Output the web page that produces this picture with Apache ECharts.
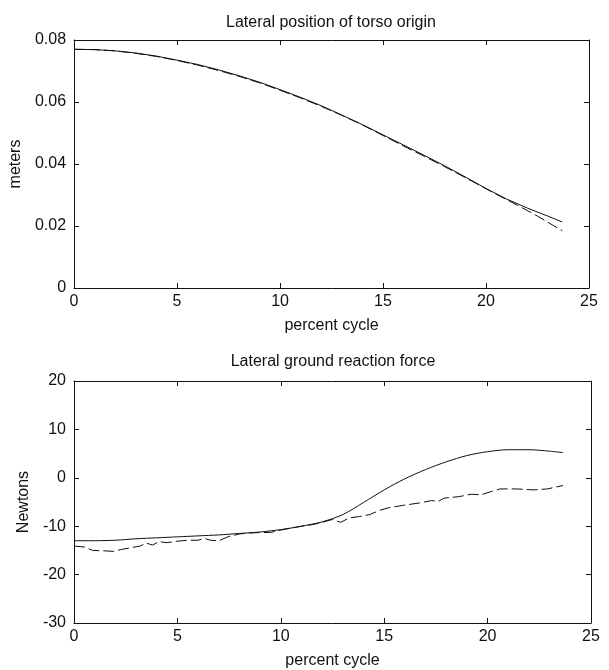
<!DOCTYPE html>
<html lang="en">

<head>
    <meta charset="UTF-8">
    <title>Lateral position and ground reaction force</title>
    <style>
        html, body { margin: 0; padding: 0; background: #fff; }
        #chart { width: 609px; height: 670px; }
    </style>
</head>

<body>
    <div id="chart"></div>
    <script src="https://cdn.jsdelivr.net/npm/echarts@6/dist/echarts.min.js"></script>
    <script>
        // top plot: lateral position of torso origin (meters)
        const posX = [0, 1, 2, 3, 4, 5, 6, 7, 8, 9, 10, 11, 12, 13, 14, 15, 16, 17, 18, 19, 20, 21, 22, 23, 23.7];
        const posSolid = [0.0770, 0.0769, 0.0765, 0.0758, 0.0748, 0.0735, 0.0721, 0.0704, 0.0685, 0.0664, 0.0640, 0.0615, 0.0588, 0.0558, 0.0527, 0.0494, 0.0461, 0.0428, 0.0394, 0.0358, 0.0321, 0.0287, 0.0258, 0.0232, 0.0213];
        const posDashedX = [0, 1, 2, 3, 4, 5, 6, 7, 8, 9, 10, 11, 12, 13, 14, 15, 16, 17, 18, 19, 20, 21, 21.5, 22, 22.5, 23, 23.7];
        const posDashed = [0.0770, 0.0769, 0.0765, 0.0757, 0.0747, 0.0734, 0.0719, 0.0702, 0.0683, 0.0662, 0.0638, 0.0613, 0.0586, 0.0557, 0.0526, 0.0492, 0.0458, 0.0425, 0.0391, 0.0356, 0.0320, 0.0285, 0.0268, 0.0250, 0.0232, 0.0212, 0.0185];

        // bottom plot: lateral ground reaction force (Newtons)
        const forceX = [0, 1, 2, 3, 4, 5, 6, 7, 8, 9, 10, 11, 12, 13, 14, 15, 16, 17, 18, 19, 20, 21, 22, 23, 23.65];
        const forceSolid = [-13.0, -13.0, -12.9, -12.6, -12.4, -12.2, -12.0, -11.8, -11.5, -11.2, -10.7, -10.0, -9.1, -7.6, -5.1, -2.5, -0.2, 1.7, 3.3, 4.6, 5.4, 5.8, 5.8, 5.5, 5.2];
        const forceDashedX = [0, 0.5, 0.9, 1.5, 1.9, 2.3, 2.8, 3.2, 3.5, 3.8, 4.1, 4.5, 5, 5.5, 6.0, 6.3, 6.6, 7.0, 7.5, 8, 8.5, 9, 9.5, 10, 10.5, 11, 11.5, 12, 12.5, 12.9, 13.3, 13.8, 14.3, 14.8, 15.2, 15.9, 16.7, 17.3, 17.6, 17.9, 18.6, 19.2, 19.7, 20.2, 20.6, 21.4, 22.2, 22.9, 23.2, 23.65];
        const forceDashed = [-14.1, -14.3, -15.0, -15.1, -15.2, -14.8, -14.4, -14.1, -13.5, -13.9, -13.2, -13.4, -13.1, -12.9, -12.9, -12.5, -12.9, -13.0, -12.1, -11.6, -11.4, -11.3, -11.3, -10.8, -10.4, -10.0, -9.7, -9.2, -8.6, -9.2, -8.3, -8.0, -7.6, -6.7, -6.2, -5.7, -5.2, -4.7, -4.9, -4.2, -3.9, -3.4, -3.5, -2.8, -2.3, -2.3, -2.5, -2.3, -2.0, -1.6];

        const xTicks = [0, 5, 10, 15, 20, 25];
        const posTicks = [0, 0.02, 0.04, 0.06, 0.08];
        const forceTicks = [-30, -20, -10, 0, 10, 20];

        const font = "'Liberation Sans', Arial, sans-serif";
        const ink = '#111';

        const pairs = (xs, ys) => xs.map((x, i) => [x, ys[i]]);

        // frame axis: the box of the matlab plot, ticks pointing inside
        function frameX(grid, pos, ticks, withLabels) {
            return {
                type: 'value', gridIndex: grid, position: pos,
                min: ticks[0], max: ticks[ticks.length - 1], interval: ticks[1] - ticks[0],
                axisLine: { show: true, onZero: false, lineStyle: { color: ink, width: 1 } },
                axisTick: { show: true, inside: true, length: 5, lineStyle: { color: ink } },
                axisLabel: { show: withLabels, color: ink, fontFamily: font, fontSize: 16, margin: 6 },
                splitLine: { show: false },
                name: withLabels ? 'percent cycle' : '',
                nameLocation: 'middle', nameGap: 30,
                nameTextStyle: { color: ink, fontFamily: font, fontSize: 16 }
            };
        }

        function frameY(grid, pos, ticks, withLabels, name, gap, fmt) {
            return {
                type: 'value', gridIndex: grid, position: pos,
                min: ticks[0], max: ticks[ticks.length - 1], interval: ticks[1] - ticks[0],
                axisLine: { show: true, onZero: false, lineStyle: { color: ink, width: 1 } },
                axisTick: { show: true, inside: true, length: 5, lineStyle: { color: ink } },
                axisLabel: { show: withLabels, color: ink, fontFamily: font, fontSize: 16, margin: 8, formatter: fmt },
                splitLine: { show: false },
                name: withLabels ? name : '',
                nameLocation: 'middle', nameGap: gap,
                nameTextStyle: { color: ink, fontFamily: font, fontSize: 16 }
            };
        }

        const solid = { color: ink, width: 1 };
        const dashed = { color: ink, width: 1, type: [11, 4] };

        const option = {
            backgroundColor: '#fff',
            animation: false,
            title: [
                {
                    text: 'Lateral position of torso origin', left: 331, top: 15, textAlign: 'center', padding: 0,
                    textStyle: { color: ink, fontFamily: font, fontSize: 16, fontWeight: 'normal' }
                },
                {
                    text: 'Lateral ground reaction force', left: 333, top: 354, textAlign: 'center', padding: 0,
                    textStyle: { color: ink, fontFamily: font, fontSize: 16, fontWeight: 'normal' }
                }
            ],
            grid: [
                { left: 73, right: 20, top: 40, height: 248, containLabel: false },
                { left: 74, right: 18, top: 381, height: 244, containLabel: false }
            ],
            xAxis: [
                frameX(0, 'bottom', xTicks, true),
                frameX(0, 'top', xTicks, false),
                frameX(1, 'bottom', xTicks, true),
                frameX(1, 'top', xTicks, false)
            ],
            yAxis: [
                frameY(0, 'left', posTicks, true, 'meters', 40, v => v === 0 ? '0' : v.toFixed(2)),
                frameY(0, 'right', posTicks, false, '', 0),
                frameY(1, 'left', forceTicks, true, 'Newtons', 29),
                frameY(1, 'right', forceTicks, false, '', 0)
            ],
            series: [
                { type: 'line', xAxisIndex: 0, yAxisIndex: 0, data: pairs(posX, posSolid), showSymbol: false, lineStyle: solid },
                { type: 'line', xAxisIndex: 0, yAxisIndex: 0, data: pairs(posDashedX, posDashed), showSymbol: false, lineStyle: dashed },
                { type: 'line', xAxisIndex: 2, yAxisIndex: 2, data: pairs(forceX, forceSolid), showSymbol: false, lineStyle: solid, smooth: 0.3 },
                { type: 'line', xAxisIndex: 2, yAxisIndex: 2, data: pairs(forceDashedX, forceDashed), showSymbol: false, lineStyle: dashed }
            ]
        };

        const chart = echarts.init(document.getElementById('chart'));
        chart.setOption(option);
    </script>
</body>

</html>
